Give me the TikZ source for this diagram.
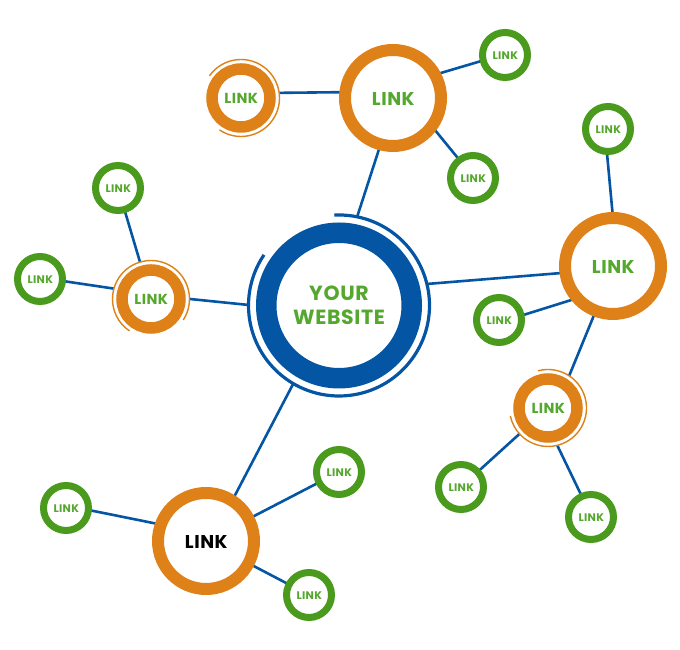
\documentclass[tikz,border=0pt]{standalone}
\usepackage{fontspec}
\setmainfont{Poppins}[LetterSpace=3]
\usetikzlibrary{backgrounds}
\definecolor{ringorange}{HTML}{DF8119}
\definecolor{hubblue}{HTML}{0455A4}
\definecolor{ringgreen}{HTML}{4A9A1E}
\definecolor{textgreen}{HTML}{55A82E}
\newcommand{\lk}{\raisebox{-0.8pt}[\height][0pt]{\hspace{0.5pt}LINK}}
\tikzset{
  x=1pt,y=1pt,
  ringbase/.style={circle,fill=white,outer sep=0pt,inner sep=0pt,align=center,text=textgreen},
  hubnode/.style={ringbase,draw=hubblue,line width=20.5pt,minimum size=145.5pt,font=\fontsize{20.5}{24.5}\selectfont\bfseries},
  largenode/.style={ringbase,draw=ringorange,line width=12pt,minimum size=96pt,font=\fontsize{18.5}{20}\selectfont\bfseries},
  midnode/.style={ringbase,draw=ringorange,line width=11.5pt,minimum size=58pt,font=\fontsize{14.5}{16}\selectfont\bfseries},
  smallnode/.style={ringbase,draw=ringgreen,line width=7pt,minimum size=45pt,font=\fontsize{11}{12}\selectfont\bfseries},
  halo/.style={circle,fill=white,inner sep=0pt,outer sep=0pt,minimum size=#1},
  link/.style={draw=hubblue,line width=2.6pt},
  hubarc/.style={draw=hubblue,line width=3.2pt},
  midarc/.style={draw=ringorange,line width=1.4pt},
}
\begin{document}
\begin{tikzpicture}
\useasboundingbox (0,0) rectangle (680,650);
% halos keep the gap between ring and outer arc clear
\node[halo=181pt] (hubhalo) at (339,344.5) {};
\node[halo=77pt] (tlhalo) at (241,552) {};
\node[halo=77pt] (lhalo) at (151,351) {};
\node[halo=77pt] (rhalo) at (548,242) {};
% rings
\node[hubnode] (hub) at (339,344.5) {YOUR\\WEBSITE};
\node[largenode] (top) at (393,552) {\lk};
\node[largenode] (right) at (613,384) {\lk};
\node[largenode,text=black] (bottom) at (206,109) {\lk};
\node[midnode] (topleft) at (241,552) {\lk};
\node[midnode] (left) at (151,351) {\lk};
\node[midnode] (lower) at (548,242) {\lk};
\node[smallnode] (a) at (505,595) {\lk};
\node[smallnode] (b) at (473,472) {\lk};
\node[smallnode] (c) at (608,521) {\lk};
\node[smallnode] (d) at (499,330) {\lk};
\node[smallnode] (e) at (461,163) {\lk};
\node[smallnode] (f) at (591,133) {\lk};
\node[smallnode] (g) at (339,178) {\lk};
\node[smallnode] (h) at (309,55) {\lk};
\node[smallnode] (i) at (66,142) {\lk};
\node[smallnode] (j) at (40,371) {\lk};
\node[smallnode] (k) at (118,462) {\lk};
% outer arcs
\draw[hubarc] ([shift={(93:90.5)}]hub.center) arc[start angle=93,end angle=-214,radius=90.5];
\draw[midarc] ([shift={(145:38.5)}]topleft.center) arc[start angle=145,end angle=-124,radius=38.5];
\draw[midarc] ([shift={(-33:38.5)}]left.center) arc[start angle=-33,end angle=236,radius=38.5];
\draw[midarc] ([shift={(105:38.5)}]lower.center) arc[start angle=105,end angle=-168,radius=38.5];
% connectors
\begin{scope}[on background layer]
\draw[link] (hub.80) -- (top.255);
\draw[link] (hub.16) -- (right.188);
\draw[link] (hub.181) -- (left.2);
\draw[link] (hub.239) -- (bottom.57);
\draw[link] (top.173) -- (topleft.10);
\draw[link] (top.29) -- (a.194);
\draw[link] (top.-36) -- (b.127);
\draw[link] (left) -- (k);
\draw[link] (left.162) -- (j.-5);
\draw[link] (right.90) -- (c.267);
\draw[link] (right.222) -- (d.11);
\draw[link] (right.249) -- (lower.53);
\draw[link] (lower) -- (e);
\draw[link] (lower.-80) -- (f.114);
\draw[link] (bottom) -- (g);
\draw[link] (bottom) -- (h);
\draw[link] (bottom.160) -- (i.-5);
\end{scope}
\end{tikzpicture}
\end{document}
